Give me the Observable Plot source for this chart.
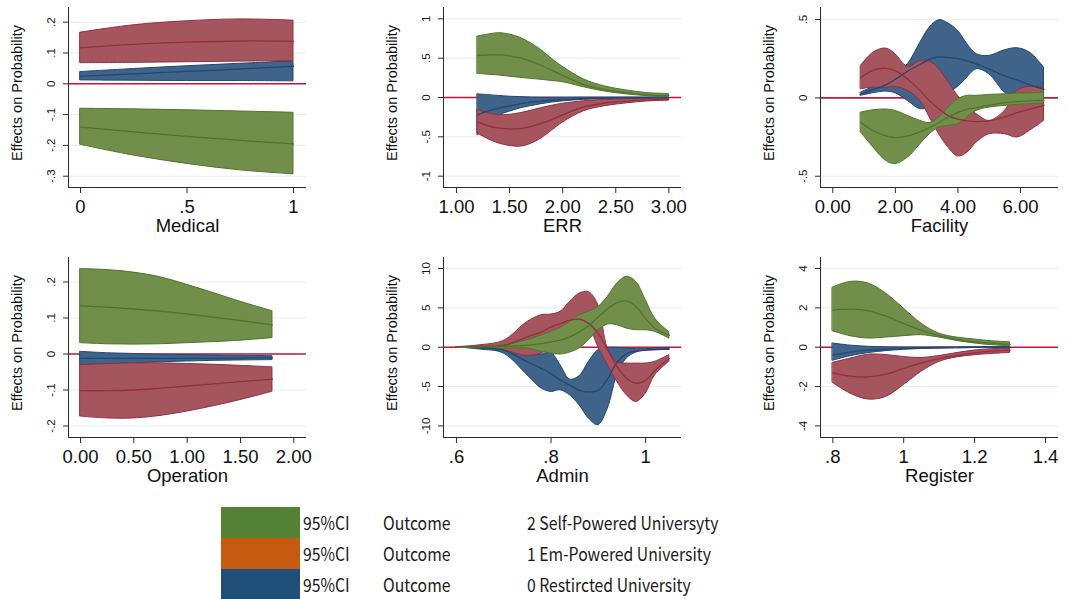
<!DOCTYPE html>
<html><head><meta charset="utf-8">
<script src="https://cdn.jsdelivr.net/npm/d3@7"></script>
<script src="https://cdn.jsdelivr.net/npm/@observablehq/plot@0.6"></script>
<style>
body{margin:0;background:#fff;}
#wrap{position:relative;width:1067px;height:599px;overflow:hidden;background:#fff;}
.panel{position:absolute;}
.lbox{position:absolute;left:221px;width:79px;height:31px;}
.lt{position:absolute;font-family:"Noto Sans CJK KR","Noto Sans",sans-serif;font-size:18px;color:#1a1a1a;line-height:31px;height:31px;white-space:nowrap;transform:scaleX(0.875);transform-origin:0 50%;}
</style></head><body><div id="wrap"></div>
<script>
// ---------- Panel 1: Medical ----------
const medicalX = [0, 0.25, 0.5, 0.75, 1];
const medicalBlueLo = [0.011, 0.010, 0.009, 0.009, 0.008];
const medicalBlueMid = [0.024, 0.032, 0.040, 0.048, 0.057];
const medicalBlueHi = [0.038, 0.048, 0.057, 0.065, 0.073];
const medicalRedLo = [0.067, 0.068, 0.070, 0.072, 0.074];
const medicalRedMid = [0.117, 0.128, 0.135, 0.139, 0.138];
const medicalRedHi = [0.166, 0.190, 0.203, 0.209, 0.205];
const medicalGreenLo = [-0.198, -0.233, -0.260, -0.281, -0.294];
const medicalGreenMid = [-0.141, -0.156, -0.171, -0.184, -0.195];
const medicalGreenHi = [-0.081, -0.083, -0.086, -0.090, -0.094];

// ---------- Panel 2: ERR ----------
const errX = [1.2, 1.3, 1.4, 1.5, 1.6, 1.7, 1.8, 1.9, 2.0, 2.2, 2.4, 2.6, 2.8, 3.0];
const errGreenHi = [0.775, 0.80, 0.818, 0.80, 0.76, 0.69, 0.60, 0.49, 0.39, 0.23, 0.14, 0.09, 0.055, 0.045];
const errGreenMid = [0.534, 0.54, 0.542, 0.53, 0.504, 0.46, 0.407, 0.345, 0.28, 0.165, 0.10, 0.06, 0.034, 0.025];
const errGreenLo = [0.30, 0.29, 0.28, 0.265, 0.25, 0.237, 0.225, 0.21, 0.195, 0.13, 0.075, 0.04, 0.017, 0.005];
const errRedHi = [-0.157, -0.20, -0.225, -0.22, -0.20, -0.17, -0.135, -0.105, -0.08, -0.048, -0.03, -0.02, -0.014, -0.01];
const errRedMid = [-0.31, -0.36, -0.39, -0.40, -0.395, -0.37, -0.33, -0.28, -0.22, -0.12, -0.07, -0.045, -0.03, -0.02];
const errRedLo = [-0.46, -0.53, -0.585, -0.615, -0.625, -0.59, -0.52, -0.42, -0.32, -0.175, -0.11, -0.075, -0.05, -0.04];
const errBlueHi = [0.04, 0.03, 0.02, 0.01, 0.005, 0, -0.002, -0.002, -0.002, -0.001, -0.001, 0, 0, 0];
const errBlueMid = [-0.22, -0.17, -0.135, -0.105, -0.08, -0.06, -0.045, -0.035, -0.025, -0.014, -0.008, -0.005, -0.003, -0.001];
const errBlueLo = [-0.48, -0.30, -0.23, -0.18, -0.14, -0.11, -0.085, -0.065, -0.05, -0.03, -0.018, -0.01, -0.006, -0.003];

// ---------- Panel 3: Facility ----------
const facX = [0.9, 1.3, 1.7, 2.0, 2.4, 2.8, 3.1, 3.4, 3.7, 4.0, 4.3, 4.6, 5.0, 5.5, 5.9, 6.3, 6.75];
const facBlueHi = [0.034, 0.07, 0.11, 0.15, 0.215, 0.353, 0.449, 0.496, 0.475, 0.428, 0.343, 0.279, 0.268, 0.304, 0.317, 0.289, 0.194];
const facBlueMid = [0.023, 0.055, 0.083, 0.119, 0.172, 0.215, 0.247, 0.262, 0.257, 0.251, 0.236, 0.215, 0.183, 0.14, 0.113, 0.083, 0.055];
const facBlueLo = [0.013, 0.03, 0.04, 0.03, -0.02, -0.072, -0.06, -0.02, 0.03, 0.07, 0.13, 0.183, 0.151, 0.034, -0.01, 0.0, 0.04];
const facRedHi = [0.204, 0.289, 0.315, 0.279, 0.198, 0.236, 0.232, 0.183, 0.098, 0.013, -0.062, -0.104, -0.147, -0.083, 0.045, 0.07, 0.062];
const facRedMid = [0.13, 0.177, 0.189, 0.172, 0.119, 0.045, -0.019, -0.072, -0.115, -0.136, -0.147, -0.151, -0.147, -0.121, -0.094, -0.072, -0.047];
const facRedLo = [0.055, 0.066, 0.062, 0.07, 0.045, -0.02, -0.125, -0.232, -0.319, -0.374, -0.35, -0.285, -0.232, -0.232, -0.253, -0.21, -0.147];
const facGreenHi = [-0.094, -0.079, -0.074, -0.083, -0.115, -0.147, -0.16, -0.126, -0.062, -0.009, 0.013, 0.013, 0.019, 0.023, 0.028, 0.03, 0.034];
const facGreenMid = [-0.157, -0.211, -0.243, -0.253, -0.243, -0.215, -0.189, -0.157, -0.121, -0.094, -0.072, -0.062, -0.047, -0.03, -0.023, -0.019, -0.015];
const facGreenLo = [-0.221, -0.317, -0.402, -0.423, -0.381, -0.296, -0.232, -0.189, -0.179, -0.168, -0.126, -0.083, -0.062, -0.051, -0.045, -0.04, -0.036];

// ---------- Panel 4: Operation ----------
const opX = [0, 0.25, 0.5, 0.75, 1.0, 1.25, 1.5, 1.8];
const opGreenHi = [0.236, 0.233, 0.226, 0.213, 0.192, 0.169, 0.145, 0.119];
const opGreenMid = [0.134, 0.130, 0.125, 0.119, 0.111, 0.102, 0.093, 0.081];
const opGreenLo = [0.030, 0.027, 0.026, 0.027, 0.030, 0.033, 0.037, 0.044];
const opBlueHi = [0.006, 0.002, 0.0, -0.002, -0.003, -0.004, -0.005, -0.006];
const opBlueMid = [-0.012, -0.012, -0.012, -0.012, -0.012, -0.012, -0.011, -0.011];
const opBlueLo = [-0.031, -0.029, -0.026, -0.023, -0.021, -0.019, -0.018, -0.017];
const opRedHi = [-0.031, -0.028, -0.026, -0.026, -0.028, -0.030, -0.033, -0.037];
const opRedMid = [-0.102, -0.102, -0.100, -0.095, -0.089, -0.083, -0.077, -0.070];
const opRedLo = [-0.174, -0.179, -0.179, -0.172, -0.160, -0.145, -0.128, -0.105];

// ---------- Panel 5: Admin ----------
const adminX = [0.6, 0.65, 0.7, 0.75, 0.78, 0.8, 0.82, 0.84, 0.86, 0.88, 0.9, 0.92, 0.94, 0.96, 0.98, 1.0, 1.02, 1.05];
const adminGreenHi = [0, 0.05, 0.25, 0.9, 1.5, 1.95, 2.45, 3.2, 4.07, 4.5, 5.1, 6.4, 8.1, 8.94, 8.3, 6.0, 3.64, 1.9];
const adminGreenMid = [0, 0.02, 0.1, 0.25, 0.47, 0.68, 0.89, 1.31, 1.95, 2.8, 3.86, 4.9, 5.68, 5.85, 5.13, 3.64, 2.37, 1.5];
const adminGreenLo = [0, -0.05, -0.17, -0.17, -0.6, -0.8, -0.93, -0.68, -0.17, 0.89, 2.16, 2.88, 2.8, 2.37, 2.16, 2.16, 1.95, 1.1];
const adminRedHi = [0, 0.25, 0.8, 3.2, 4.07, 4.15, 4.5, 5.76, 6.8, 7.0, 5.34, -0.17, -1.9, -2.08, -2.08, -2.08, -1.86, -1.0];
const adminRedMid = [0, 0.1, 0.2, 1.31, 1.95, 2.58, 3.0, 3.43, 3.56, 3.0, 1.74, -0.38, -2.5, -3.98, -4.6, -4.2, -2.92, -1.44];
const adminRedLo = [0, -0.1, -0.4, -1.1, -0.8, -0.08, 0.47, 1.31, 2.58, 2.4, 0.04, -2.29, -4.4, -6.1, -6.95, -5.9, -3.56, -1.86];
const adminBlueHi = [0, 0, -0.1, -0.68, -0.93, -0.7, -2.29, -4.1, -3.7, -1.86, -0.38, -0.08, -0.08, -0.17, -0.25, -0.25, -0.17, -0.12];
const adminBlueMid = [0, -0.1, -0.38, -1.86, -2.71, -3.35, -4.2, -4.83, -5.47, -5.68, -5.47, -3.98, -1.86, -0.8, -0.5, -0.38, -0.3, -0.25];
const adminBlueLo = [0, -0.3, -0.8, -3.56, -5.25, -5.68, -5.47, -6.1, -7.37, -9.07, -9.9, -7.8, -3.56, -1.44, -0.68, -0.45, -0.38, -0.35];

// ---------- Panel 6: Register ----------
const regX = [0.8, 0.85, 0.9, 0.95, 1.0, 1.05, 1.1, 1.15, 1.2, 1.25, 1.3];
const regGreenHi = [3.03, 3.32, 3.24, 2.73, 1.97, 1.2, 0.69, 0.49, 0.39, 0.3, 0.25];
const regGreenMid = [1.88, 1.93, 1.85, 1.58, 1.2, 0.86, 0.59, 0.4, 0.27, 0.2, 0.14];
const regGreenLo = [0.81, 0.56, 0.44, 0.49, 0.56, 0.61, 0.49, 0.32, 0.19, 0.1, 0.05];
const regBlueHi = [0.19, 0.08, 0.02, -0.01, -0.02, -0.02, -0.01, -0.01, 0, 0, 0];
const regBlueMid = [-0.4, -0.25, -0.15, -0.1, -0.07, -0.05, -0.03, -0.02, -0.01, -0.005, 0];
const regBlueLo = [-0.69, -0.46, -0.3, -0.2, -0.13, -0.09, -0.07, -0.05, -0.04, -0.03, -0.02];
const regRedHi = [-0.8, -0.58, -0.38, -0.4, -0.5, -0.55, -0.45, -0.3, -0.17, -0.1, -0.07];
const regRedMid = [-1.3, -1.47, -1.51, -1.37, -1.08, -0.8, -0.58, -0.42, -0.29, -0.2, -0.15];
const regRedLo = [-1.81, -2.36, -2.66, -2.53, -1.93, -1.25, -0.75, -0.52, -0.41, -0.34, -0.29];

// ---------- Ticks & labels ----------
const medicalXTicks = [0, 0.5, 1], medicalXLabels = ["0", ".5", "1"];
const medicalYTicks = [-0.3, -0.2, -0.1, 0, 0.1, 0.2], medicalYLabels = ["-.3", "-.2", "-.1", "0", ".1", ".2"];
const errXTicks = [1, 1.5, 2, 2.5, 3], errXLabels = ["1.00", "1.50", "2.00", "2.50", "3.00"];
const errYTicks = [-1, -0.5, 0, 0.5, 1], errYLabels = ["-1", "-.5", "0", ".5", "1"];
const facXTicks = [0, 2, 4, 6], facXLabels = ["0.00", "2.00", "4.00", "6.00"];
const facYTicks = [-0.5, 0, 0.5], facYLabels = ["-.5", "0", ".5"];
const opXTicks = [0, 0.5, 1, 1.5, 2], opXLabels = ["0.00", "0.50", "1.00", "1.50", "2.00"];
const opYTicks = [-0.2, -0.1, 0, 0.1, 0.2], opYLabels = ["-.2", "-.1", "0", ".1", ".2"];
const adminXTicks = [0.6, 0.8, 1], adminXLabels = [".6", ".8", "1"];
const adminYTicks = [-10, -5, 0, 5, 10], adminYLabels = ["-10", "-5", "0", "5", "10"];
const regXTicks = [0.8, 1, 1.2, 1.4], regXLabels = [".8", "1", "1.2", "1.4"];
const regYTicks = [-4, -2, 0, 2, 4], regYLabels = ["-4", "-2", "0", "2", "4"];

const legendSeries = ["2 Self-Powered Universyty", "1 Em-Powered University", "0 Restircted University"];
const legendColors = ["#548235", "#c55a11", "#1f4e79"];

const fills = ["#3f6389", "#a5555e", "#718f4a"];
const strokes = ["#1f4872", "#952e3e", "#4d7629"];

function rows(x, lo, mid, hi) {
  return x.map((v, i) => ({x: v, lo: lo[i], mid: mid[i], hi: hi[i]}));
}

const panels = [
  {left: 0, top: 0, title: "Medical", xd: [-0.0563, 1.061], yd: [-0.3367, 0.2477],
   xt: medicalXTicks, xl: medicalXLabels, yt: medicalYTicks, yl: medicalYLabels,
   s: [rows(medicalX, medicalBlueLo, medicalBlueMid, medicalBlueHi),
       rows(medicalX, medicalRedLo, medicalRedMid, medicalRedHi),
       rows(medicalX, medicalGreenLo, medicalGreenMid, medicalGreenHi)]},
  {left: 375, top: 0, title: "ERR", xd: [0.878, 3.119], yd: [-1.144, 1.144],
   xt: errXTicks, xl: errXLabels, yt: errYTicks, yl: errYLabels,
   s: [rows(errX, errBlueLo, errBlueMid, errBlueHi),
       rows(errX, errRedLo, errRedMid, errRedHi),
       rows(errX, errGreenLo, errGreenMid, errGreenHi)]},
  {left: 752, top: 0, title: "Facility", xd: [-0.393, 7.215], yd: [-0.572, 0.577],
   xt: facXTicks, xl: facXLabels, yt: facYTicks, yl: facYLabels,
   s: [rows(facX, facBlueLo, facBlueMid, facBlueHi),
       rows(facX, facRedLo, facRedMid, facRedHi),
       rows(facX, facGreenLo, facGreenMid, facGreenHi)]},
  {left: 0, top: 250, title: "Operation", xd: [-0.1125, 2.119], yd: [-0.232, 0.268],
   xt: opXTicks, xl: opXLabels, yt: opYTicks, yl: opYLabels,
   s: [rows(opX, opBlueLo, opBlueMid, opBlueHi),
       rows(opX, opRedLo, opRedMid, opRedHi),
       rows(opX, opGreenLo, opGreenMid, opGreenHi)]},
  {left: 375, top: 250, title: "Admin", xd: [0.5726, 1.0758], yd: [-11.47, 11.4],
   xt: adminXTicks, xl: adminXLabels, yt: adminYTicks, yl: adminYLabels,
   s: [rows(adminX, adminBlueLo, adminBlueMid, adminBlueHi),
       rows(adminX, adminRedLo, adminRedMid, adminRedHi),
       rows(adminX, adminGreenLo, adminGreenMid, adminGreenHi)]},
  {left: 752, top: 250, title: "Register", xd: [0.7653, 1.4367], yd: [-4.59, 4.559],
   xt: regXTicks, xl: regXLabels, yt: regYTicks, yl: regYLabels,
   s: [rows(regX, regBlueLo, regBlueMid, regBlueHi),
       rows(regX, regRedLo, regRedMid, regRedHi),
       rows(regX, regGreenLo, regGreenMid, regGreenHi)]}
];

const wrap = document.getElementById("wrap");
const axisColor = "#2b2b2b";
const curve = "catmull-rom";

for (const p of panels) {
  const marks = [
    Plot.gridY(p.yt, {stroke: "#e2edf0", strokeOpacity: 1, strokeWidth: 1}),
    Plot.ruleY([0], {stroke: "#c8153a", strokeWidth: 1.6})
  ];
  p.s.forEach((d, k) => {
    marks.push(Plot.areaY(d, {x: "x", y1: "lo", y2: "hi", fill: fills[k], fillOpacity: 1, stroke: strokes[k], strokeWidth: 1, curve}));
  });
  p.s.forEach((d, k) => {
    marks.push(Plot.line(d, {x: "x", y: "mid", stroke: strokes[k], strokeWidth: 1.3, curve}));
  });
  marks.push(
    Plot.ruleX([p.xd[0]], {stroke: axisColor, strokeWidth: 1}),
    Plot.ruleY([p.yd[0]], {stroke: axisColor, strokeWidth: 1}),
    Plot.axisX({ticks: p.xt, tickSize: 6, tickFormat: () => "", label: null, stroke: axisColor}),
    Plot.axisY({ticks: p.yt, tickSize: 5, tickFormat: () => "", label: null, stroke: axisColor}),
    Plot.text(p.xt, {x: d => d, frameAnchor: "bottom", dy: 20, text: (d, i) => p.xl[i], fontSize: 18.5, fill: "#111", textAnchor: "middle", lineAnchor: "middle"}),
    Plot.text(p.yt, {y: d => d, frameAnchor: "left", dx: -17, rotate: -90, text: (d, i) => p.yl[i], fontSize: 11.5, fill: "#111", textAnchor: "middle", lineAnchor: "middle"}),
    Plot.text([p.title], {frameAnchor: "bottom", dy: 39, text: d => d, fontSize: 18.5, fill: "#111", textAnchor: "middle", lineAnchor: "middle"}),
    Plot.text(["Effects on Probability"], {frameAnchor: "left", dx: -51, dy: -4.5, rotate: -90, text: d => d, fontSize: 14.5, fill: "#111", textAnchor: "middle", lineAnchor: "middle"})
  );
  const chart = Plot.plot({
    width: 315, height: 242,
    marginLeft: 68, marginRight: 9, marginTop: 7, marginBottom: 55,
    x: {domain: p.xd},
    y: {domain: p.yd},
    style: {fontFamily: "'Liberation Sans', Arial, sans-serif", background: "transparent", overflow: "visible"},
    marks
  });
  chart.classList.add("panel");
  chart.style.left = p.left + "px";
  chart.style.top = p.top + "px";
  chart.style.position = "absolute";
  wrap.appendChild(chart);
}

// legend
legendSeries.forEach((name, i) => {
  const top = 507 + i * 31;
  const box = document.createElement("div");
  box.className = "lbox";
  box.style.top = top + "px";
  box.style.background = legendColors[i];
  wrap.appendChild(box);
  const cells = [["95%CI", 303], ["Outcome", 383], [name, 527]];
  for (const [t, x] of cells) {
    const el = document.createElement("div");
    el.className = "lt";
    el.style.left = x + "px";
    el.style.top = top + "px";
    el.textContent = t;
    wrap.appendChild(el);
  }
});
</script>
</body></html>
